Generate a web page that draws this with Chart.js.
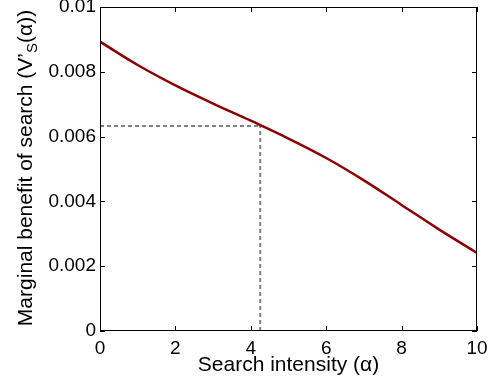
<!DOCTYPE html>
<html>
<head>
<meta charset="utf-8">
<script src="https://cdn.jsdelivr.net/npm/chart.js@4.4.1/dist/chart.umd.min.js"></script>
<style>
  html, body { margin: 0; padding: 0; background: #fff; }
  #wrap { width: 489px; height: 379px; }
</style>
</head>
<body>
<div id="wrap"><canvas id="myChart" width="489" height="379"></canvas></div>
<script>
// values
var alpha = [0, 1, 2, 3, 4, 5, 6, 7, 8, 9, 10]
var benefit = [0.00893, 0.00821, 0.00758, 0.00702, 0.00649, 0.00594, 0.00534, 0.00465, 0.00389, 0.00313, 0.00241]
var optAlpha = 4.25
var optBenefit = 0.00633

var xTicks = [0, 2, 4, 6, 8, 10]
var xTickLabels = ['0', '2', '4', '6', '8', '10']
var yTicks = [0, 0.002, 0.004, 0.006, 0.008, 0.01]
var yTickLabels = ['0', '0.002', '0.004', '0.006', '0.008', '0.01']

var fontFamily = "'Liberation Sans', Arial, Helvetica, sans-serif"
var tickSize = 19
var labelSize = 21

var curve = []
for (var i = 0; i < alpha.length; i++) {
    curve.push({ x: alpha[i], y: benefit[i] })
}

// box, inward tick marks and the y title with subscript
var matlabAxes = {
    id: 'matlabAxes',
    afterDraw: function(chart) {
        var ctx = chart.ctx
        var a = chart.chartArea
        var xs = chart.scales.x
        var ys = chart.scales.y
        ctx.save()
        ctx.strokeStyle = '#000'
        ctx.lineWidth = 1
        ctx.beginPath()
        xTicks.forEach(function(v) {
            var px = Math.round(xs.getPixelForValue(v)) + 0.5
            ctx.moveTo(px, a.bottom); ctx.lineTo(px, a.bottom - 5)
            ctx.moveTo(px, a.top); ctx.lineTo(px, a.top + 5)
        })
        yTicks.forEach(function(v) {
            var py = Math.round(ys.getPixelForValue(v)) + 0.5
            ctx.moveTo(a.left, py); ctx.lineTo(a.left + 5, py)
            ctx.moveTo(a.right, py); ctx.lineTo(a.right - 5, py)
        })
        ctx.stroke()
        ctx.strokeRect(Math.round(a.left) + 0.5, Math.round(a.top) + 0.5,
            Math.round(a.right - a.left) - 1, Math.round(a.bottom - a.top) - 1)

        // y axis title
        var parts = [
            { t: 'Marginal benefit of search (V\u2019', size: labelSize, dy: 0 },
            { t: 'S', size: 15, dy: 5 },
            { t: '(\u03b1))', size: labelSize, dy: 0 }
        ]
        var total = 0
        parts.forEach(function(p) {
            ctx.font = p.size + 'px ' + fontFamily
            p.w = ctx.measureText(p.t).width
            total += p.w
        })
        ctx.translate(31.5, (a.top + a.bottom) / 2 - 1)
        ctx.rotate(-Math.PI / 2)
        ctx.fillStyle = '#000'
        ctx.textBaseline = 'alphabetic'
        ctx.textAlign = 'left'
        var cx = -total / 2
        parts.forEach(function(p) {
            ctx.font = p.size + 'px ' + fontFamily
            ctx.fillText(p.t, cx, p.dy)
            cx += p.w
        })
        ctx.restore()
    }
}

var ctx = document.getElementById('myChart').getContext('2d')

var chart = new Chart(ctx, {
    type: 'scatter',
    data: {
        datasets: [{
                label: 'Marginal benefit',
                data: curve,
                showLine: true,
                borderColor: '#8b0000',
                borderWidth: 2.5,
                pointRadius: 0,
                tension: 0.4
            },
            {
                label: 'optimum x',
                data: [{ x: optAlpha, y: 0 }, { x: optAlpha, y: optBenefit }],
                showLine: true,
                borderColor: '#808080',
                borderWidth: 2,
                borderDash: [4, 3],
                pointRadius: 0
            },
            {
                label: 'optimum y',
                data: [{ x: 0, y: optBenefit }, { x: optAlpha, y: optBenefit }],
                showLine: true,
                borderColor: '#808080',
                borderWidth: 2,
                borderDash: [4, 3],
                pointRadius: 0
            }
        ]
    },
    options: {
        responsive: false,
        animation: false,
        events: [],
        layout: { padding: { left: 0, right: 12, top: 7, bottom: 0 } },
        plugins: {
            legend: { display: false },
            tooltip: { enabled: false }
        },
        scales: {
            x: {
                type: 'linear',
                min: 0,
                max: 10,
                grid: { display: false, drawTicks: false },
                border: { display: false },
                afterBuildTicks: function(s) {
                    s.ticks = xTicks.map(function(v) { return { value: v } })
                },
                afterFit: function(s) {
                    s.height = 48
                    s.paddingLeft = 0
                    s.paddingRight = 0
                },
                ticks: {
                    color: '#000',
                    padding: 6,
                    maxRotation: 0,
                    autoSkip: false,
                    font: { family: fontFamily, size: tickSize },
                    callback: function(v) { return xTickLabels[xTicks.indexOf(v)] }
                },
                title: {
                    display: true,
                    text: 'Search intensity (\u03b1)',
                    color: '#000',
                    font: { family: fontFamily, size: labelSize },
                    padding: { top: 0, bottom: 1 }
                }
            },
            y: {
                type: 'linear',
                min: 0,
                max: 0.01,
                grid: { display: false, drawTicks: false },
                border: { display: false },
                afterBuildTicks: function(s) {
                    s.ticks = yTicks.map(function(v) { return { value: v } })
                },
                afterFit: function(s) {
                    s.width = 100
                    s.paddingTop = 0
                    s.paddingBottom = 0
                },
                ticks: {
                    color: '#000',
                    padding: 4,
                    autoSkip: false,
                    font: { family: fontFamily, size: tickSize },
                    callback: function(v) { return yTickLabels[yTicks.indexOf(v)] }
                }
            }
        }
    },
    plugins: [matlabAxes]
})
</script>
</body>
</html>
